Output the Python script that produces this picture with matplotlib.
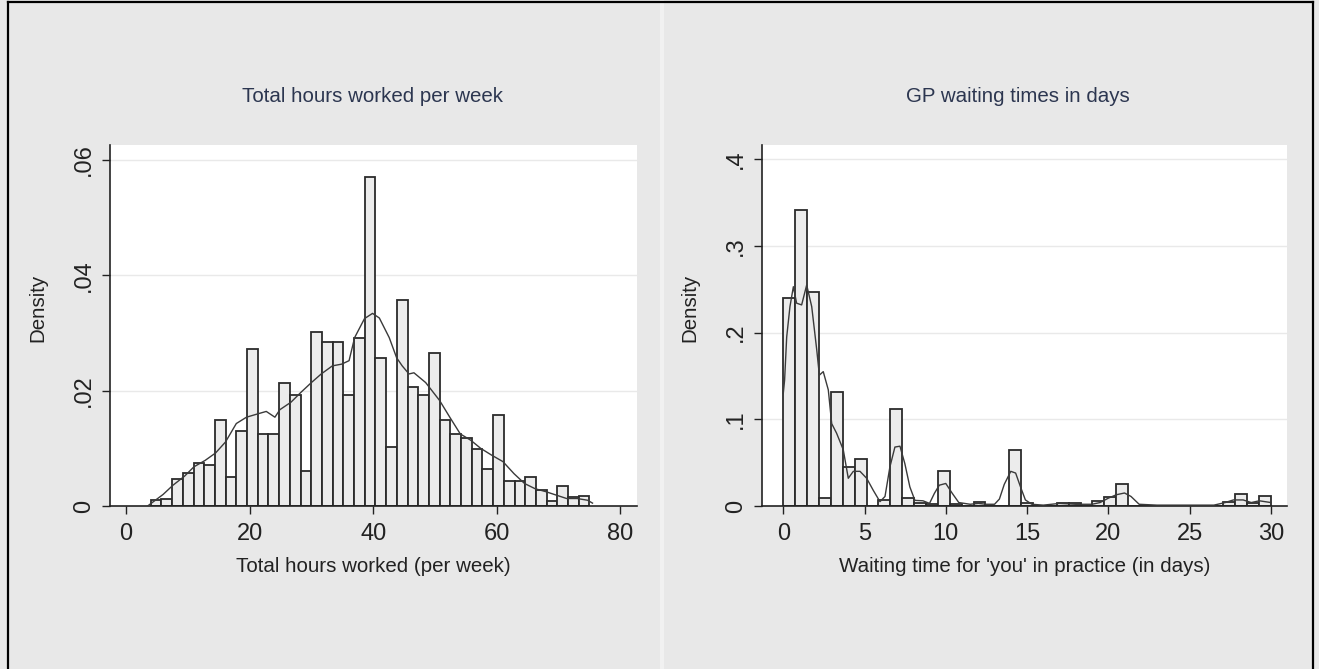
import matplotlib
matplotlib.use("Agg")
import matplotlib.pyplot as plt
from matplotlib.lines import Line2D
import numpy as np

# --- left panel: total hours worked per week ---
hours_bin_start = 4.0
hours_bin_width = 71.0 / 41
hours_density = [
    0.0010, 0.0013, 0.0047, 0.0058, 0.0075, 0.0071, 0.0149, 0.0051, 0.0130, 0.0272,
    0.0124, 0.0124, 0.0213, 0.0193, 0.0061, 0.0302, 0.0285, 0.0285, 0.0193, 0.0292,
    0.0570, 0.0256, 0.0103, 0.0358, 0.0207, 0.0193, 0.0265, 0.0149, 0.0124, 0.0118,
    0.0098, 0.0064, 0.0157, 0.0044, 0.0044, 0.0051, 0.0028, 0.0009, 0.0034, 0.0016,
    0.0017,
]
hours_kde_x = [
    3.5, 4.5, 6.0, 7.6, 9.5, 11.0, 12.8, 14.5, 16.1, 17.85, 19.5, 21.4, 22.7, 24.1,
    24.9, 26.7, 28.3, 30.0, 31.6, 33.4, 34.9, 36.1, 37.0, 38.6, 39.9, 41.0, 42.6,
    43.8, 44.7, 45.8, 46.6, 48.5, 50.75, 52.4, 54.1, 55.8, 57.4, 59.2, 61.0, 62.8,
    64.5, 66.2, 67.9, 69.6, 71.3, 73.0, 74.7, 75.5,
]
hours_kde_y = [
    0.0, 0.0008, 0.0020, 0.0036, 0.0052, 0.0068, 0.0079, 0.0092, 0.0111, 0.0143,
    0.0154, 0.0160, 0.0164, 0.0154, 0.0167, 0.0180, 0.0197, 0.0214, 0.0229, 0.0243,
    0.0246, 0.0252, 0.0292, 0.0325, 0.0334, 0.0326, 0.0292, 0.0257, 0.0243, 0.0229,
    0.0231, 0.0214, 0.0183, 0.0154, 0.0125, 0.0114, 0.0100, 0.0088, 0.0077, 0.0056,
    0.0039, 0.0030, 0.0025, 0.0019, 0.0013, 0.0013, 0.0010, 0.0005,
]
hours_xticks = [0, 20, 40, 60, 80]
hours_yticks = [0, 0.02, 0.04, 0.06]
hours_yticklabels = ["0", ".02", ".04", ".06"]

# --- right panel: GP waiting times ---
wait_bin_start = 0.0
wait_bin_width = 30.0 / 41
wait_density = [
    0.2396, 0.3414, 0.2464, 0.0096, 0.1310, 0.0454, 0.0538, 0.0, 0.0070, 0.1115,
    0.0096, 0.0040, 0.0020, 0.0404, 0.0020, 0.0, 0.0050, 0.0, 0.0, 0.0646,
    0.0040, 0.0, 0.0, 0.0030, 0.0030, 0.0, 0.0060, 0.0100, 0.0254, 0.0,
    0.0, 0.0, 0.0, 0.0, 0.0, 0.0, 0.0, 0.0050, 0.0138, 0.0030,
    0.0115,
]
wait_kde_x = [
    0.0, 0.08, 0.21, 0.41, 0.62, 0.82, 1.13, 1.44, 1.75, 2.06, 2.22, 2.46, 2.77, 2.98,
    3.28, 3.69, 4.0, 4.31, 4.72, 5.13, 5.54, 5.95, 6.26, 6.56, 6.87, 7.18, 7.48, 7.79,
    8.1, 8.6, 9.0, 9.3, 9.6, 10.0, 10.4, 10.8, 11.5, 12.0, 12.5, 13.0, 13.3, 13.6,
    14.0, 14.3, 14.6, 14.9, 15.3, 16.0, 17.0, 18.0, 19.0, 19.5, 20.0, 20.5, 21.0,
    21.4, 21.9, 23.0, 26.5, 27.2, 27.7, 28.3, 28.8, 29.3, 30.0,
]
wait_kde_y = [
    0.130, 0.145, 0.195, 0.230, 0.253, 0.234, 0.232, 0.255, 0.230, 0.180, 0.151,
    0.155, 0.134, 0.095, 0.084, 0.065, 0.032, 0.040, 0.040, 0.032, 0.018, 0.005,
    0.011, 0.045, 0.068, 0.069, 0.049, 0.022, 0.0065, 0.006, 0.003, 0.0146, 0.024,
    0.026, 0.0146, 0.004, 0.002, 0.003, 0.002, 0.002, 0.008, 0.025, 0.040, 0.038,
    0.022, 0.007, 0.002, 0.001, 0.003, 0.002, 0.002, 0.004, 0.009, 0.013, 0.015,
    0.011, 0.002, 0.001, 0.001, 0.004, 0.007, 0.007, 0.004, 0.006, 0.004,
]
wait_xticks = [0, 5, 10, 15, 20, 25, 30]
wait_yticks = [0, 0.1, 0.2, 0.3, 0.4]
wait_yticklabels = ["0", ".1", ".2", ".3", ".4"]

W, H = 1319, 669
BG = "#e8e8e8"
TITLE_COLOR = "#2c3650"
FONT = ["Liberation Sans", "DejaVu Sans"]

plt.rcParams["font.family"] = FONT


def draw_panel(ax, start, width, density, kde_x, kde_y, xlim, ylim,
               xticks, yticks, yticklabels, xlabel):
    """Histogram with kernel density overlay in Stata look."""
    edges = start + width * np.arange(len(density))
    ax.set_facecolor("white")
    for y in yticks[1:]:
        ax.axhline(y, color="#e9e9e9", lw=1.0, zorder=0)
    ax.bar(edges, density, width=width, align="edge", color="#ececec",
           edgecolor="#2b2b2b", linewidth=1.3, zorder=2)
    ax.plot(kde_x, kde_y, color="#3a3a3a", lw=1.0, zorder=3)

    ax.set_xlim(*xlim)
    ax.set_ylim(*ylim)
    ax.set_xticks(xticks)
    ax.set_yticks(yticks)
    ax.set_yticklabels(yticklabels, rotation=90, va="center")
    ax.tick_params(direction="out", length=6, width=1.0, labelsize=17,
                   colors="#222222")
    ax.tick_params(axis="x", pad=6)
    ax.tick_params(axis="y", pad=5)
    for side in ("top", "right"):
        ax.spines[side].set_visible(False)
    for side in ("left", "bottom"):
        ax.spines[side].set_color("#222222")
        ax.spines[side].set_linewidth(1.2)
    ax.set_xlabel(xlabel, fontsize=14.8, color="#222222", labelpad=9)
    ax.set_ylabel("Density", fontsize=14.8, color="#222222", labelpad=18,
                  y=0.55)


fig = plt.figure(figsize=(W / 100, H / 100), dpi=100, facecolor=BG)

ax1 = fig.add_axes([110 / W, 163 / H, 527 / W, 361 / H])
draw_panel(ax1, hours_bin_start, hours_bin_width, hours_density,
           hours_kde_x, hours_kde_y, (-2.59, 82.7), (0, 0.0626),
           hours_xticks, hours_yticks, hours_yticklabels,
           "Total hours worked (per week)")

ax2 = fig.add_axes([762 / W, 163 / H, 525 / W, 361 / H])
draw_panel(ax2, wait_bin_start, wait_bin_width, wait_density,
           wait_kde_x, wait_kde_y, (-1.31, 31.0), (0, 0.4165),
           wait_xticks, wait_yticks, wait_yticklabels,
           "Waiting time for 'you' in practice (in days)")

fig.text(372 / W, 1 - 97 / H, "Total hours worked per week", ha="center",
         va="center", fontsize=14.8, color=TITLE_COLOR)
fig.text(1018 / W, 1 - 97 / H, "GP waiting times in days", ha="center",
         va="center", fontsize=14.8, color=TITLE_COLOR)

# panel separator and outer frame
fig.add_artist(Line2D([662 / W, 662 / W], [0, 1], color="#f1f1f1", lw=3))
fig.add_artist(Line2D([8 / W, 8 / W], [0, 1 - 2 / H], color="black", lw=1.6))
fig.add_artist(Line2D([8 / W, 1313 / W], [1 - 2 / H, 1 - 2 / H], color="black", lw=1.6))
fig.add_artist(Line2D([1313 / W, 1313 / W], [0, 1 - 2 / H], color="black", lw=1.6))

fig.savefig("out.png", dpi=100, facecolor=BG)
